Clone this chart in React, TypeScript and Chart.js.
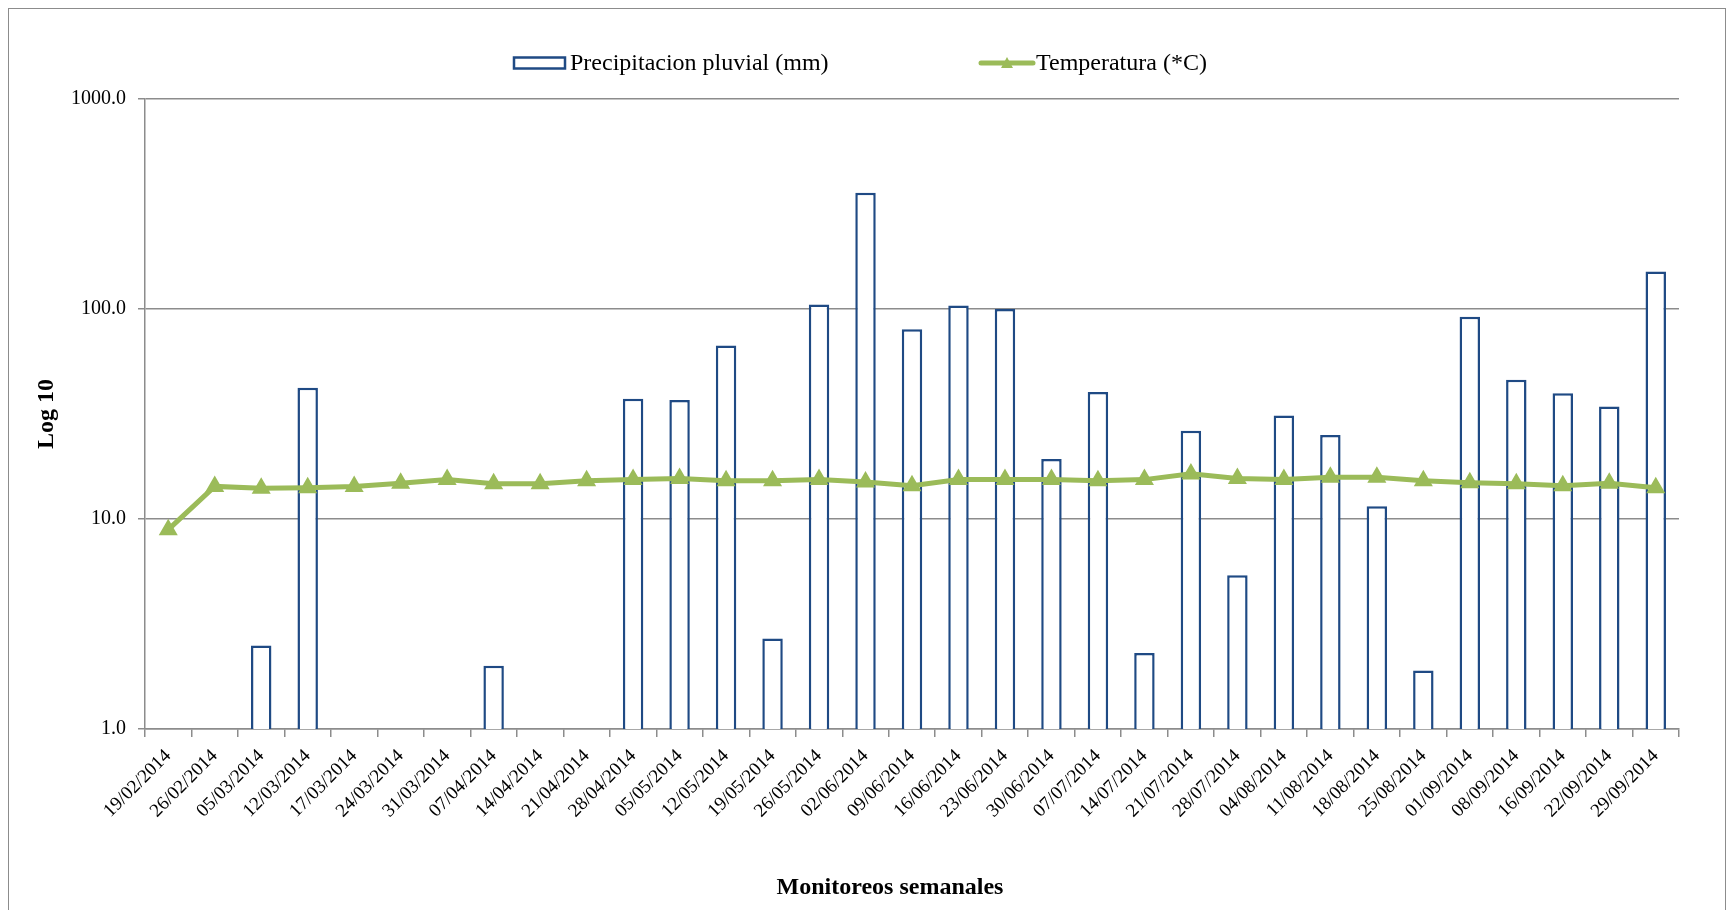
import React, { useEffect, useRef } from "react";
import { Chart, registerables } from "chart.js";

Chart.register(...registerables);

const fechas = [
  "19/02/2014", "26/02/2014", "05/03/2014", "12/03/2014", "17/03/2014", "24/03/2014",
  "31/03/2014", "07/04/2014", "14/04/2014", "21/04/2014", "28/04/2014", "05/05/2014",
  "12/05/2014", "19/05/2014", "26/05/2014", "02/06/2014", "09/06/2014", "16/06/2014",
  "23/06/2014", "30/06/2014", "07/07/2014", "14/07/2014", "21/07/2014", "28/07/2014",
  "04/08/2014", "11/08/2014", "18/08/2014", "25/08/2014", "01/09/2014", "08/09/2014",
  "16/09/2014", "22/09/2014", "29/09/2014",
];

const precipitacion: (number | null)[] = [
  null, null, 2.5, 42.2, null, null, null, 2.0, null, null, 37.4, 36.9,
  67.0, 2.7, 105.0, 358.0, 80.0, 104.0, 100.0, 19.3, 40.2, 2.3, 26.3, 5.4,
  31.1, 25.1, 11.5, 1.9, 91.8, 46.0, 39.7, 34.3, 151.0,
];

const temperatura = [
  8.9, 14.3, 14.0, 14.1, 14.3, 14.8, 15.4, 14.7, 14.7, 15.2, 15.4, 15.6,
  15.2, 15.2, 15.4, 15.0, 14.4, 15.4, 15.4, 15.4, 15.2, 15.4, 16.4, 15.6,
  15.4, 15.8, 15.8, 15.2, 14.9, 14.7, 14.4, 14.8, 14.1,
];

const yTicks = [1, 10, 100, 1000];

const labelPrecip = "Precipitacion pluvial (mm)";
const labelTemp = "Temperatura (*C)";
const xTitle = "Monitoreos semanales";
const yTitle = "Log 10";

const FONT = "'Liberation Serif', 'Times New Roman', serif";
const BAR_COLOR = "#1F4A84";
const GREEN = "#9BBB59";
const GRID = "#8C8C8C";

const CW = 1716;
const CH = 901;

const legendPlugin = {
  id: "customLegend",
  afterDraw(chart: any) {
    const ctx = chart.ctx as CanvasRenderingContext2D;
    ctx.save();
    const cy = 54;
    // bar legend box
    ctx.fillStyle = "#ffffff";
    ctx.strokeStyle = BAR_COLOR;
    ctx.lineWidth = 2.5;
    ctx.fillRect(505, cy - 5.5, 51, 11);
    ctx.strokeRect(505, cy - 5.5, 51, 11);
    ctx.fillStyle = "#000";
    ctx.font = `24px ${FONT}`;
    ctx.textAlign = "left";
    ctx.textBaseline = "middle";
    ctx.fillText(chart.data.datasets[0].label, 561, cy + 1);
    // line legend
    ctx.strokeStyle = GREEN;
    ctx.lineWidth = 5;
    ctx.lineCap = "round";
    ctx.beginPath();
    ctx.moveTo(972, cy);
    ctx.lineTo(1024, cy);
    ctx.stroke();
    ctx.fillStyle = GREEN;
    ctx.beginPath();
    ctx.moveTo(998, cy - 6);
    ctx.lineTo(1004, cy + 5);
    ctx.lineTo(992, cy + 5);
    ctx.closePath();
    ctx.fill();
    ctx.fillStyle = "#000";
    ctx.fillText(chart.data.datasets[1].label, 1027, cy + 1);
    // x axis title
    ctx.font = `bold 24px ${FONT}`;
    ctx.textAlign = "center";
    ctx.fillText(xTitle, 881, 879);
    ctx.restore();
  },
};

export default function App() {
  const ref = useRef<HTMLCanvasElement | null>(null);

  useEffect(() => {
    if (!ref.current) return;
    const chart = new Chart(ref.current, {
      type: "bar",
      data: {
        labels: fechas,
        datasets: [
          {
            type: "bar",
            label: labelPrecip,
            data: precipitacion as any,
            backgroundColor: "#ffffff",
            borderColor: BAR_COLOR,
            borderWidth: 2.5,
            barPercentage: 0.44,
            categoryPercentage: 1,
            order: 2,
          },
          {
            type: "line",
            label: labelTemp,
            data: temperatura,
            borderColor: GREEN,
            backgroundColor: GREEN,
            borderWidth: 5,
            pointStyle: "triangle",
            pointRadius: 6,
            pointBackgroundColor: GREEN,
            pointBorderColor: GREEN,
            tension: 0,
            order: 1,
          } as any,
        ],
      },
      options: {
        responsive: false,
        animation: false,
        devicePixelRatio: 1,
        layout: { padding: { top: 90, right: 46, left: 0, bottom: 0 } },
        plugins: {
          legend: { display: false },
          tooltip: { enabled: false },
        },
        scales: {
          x: {
            grid: {
              drawOnChartArea: false,
              drawTicks: true,
              tickLength: 8,
              color: GRID,
              lineWidth: 1.5,
              offset: true,
            },
            border: { color: GRID, width: 1.5 },
            ticks: {
              autoSkip: false,
              minRotation: 45,
              maxRotation: 45,
              color: "#000",
              padding: 8,
              labelOffset: 0,
              font: { family: FONT, size: 19 },
            },
            title: { display: false, text: xTitle },
            afterFit(scale: any) {
              scale.height = CH - 720;
            },
          },
          y: {
            type: "logarithmic",
            min: 1,
            max: 1000,
            grid: {
              color: GRID,
              lineWidth: 1.5,
              tickLength: 7,
            },
            border: { color: GRID, width: 1.5 },
            ticks: {
              color: "#000",
              padding: 12,
              font: { family: FONT, size: 20 },
              callback: (v: any) => Number(v).toFixed(1),
            },
            afterBuildTicks(scale: any) {
              scale.ticks = yTicks.map((v) => ({ value: v }));
            },
            title: {
              display: true,
              text: yTitle,
              color: "#000",
              font: { family: FONT, size: 24, weight: "bold" },
              padding: { top: 23, bottom: 0 },
            },
            afterFit(scale: any) {
              scale.width = 136;
            },
          },
        },
      } as any,
      plugins: [legendPlugin],
    });
    return () => chart.destroy();
  }, []);

  return (
    <div
      style={{
        position: "fixed",
        left: 8,
        top: 8,
        width: CW,
        height: 920,
        border: "1px solid #8C8C8C",
        background: "#fff",
      }}
    >
      <canvas
        ref={ref}
        width={CW}
        height={CH}
        style={{ display: "block", width: CW, height: CH }}
      />
    </div>
  );
}
